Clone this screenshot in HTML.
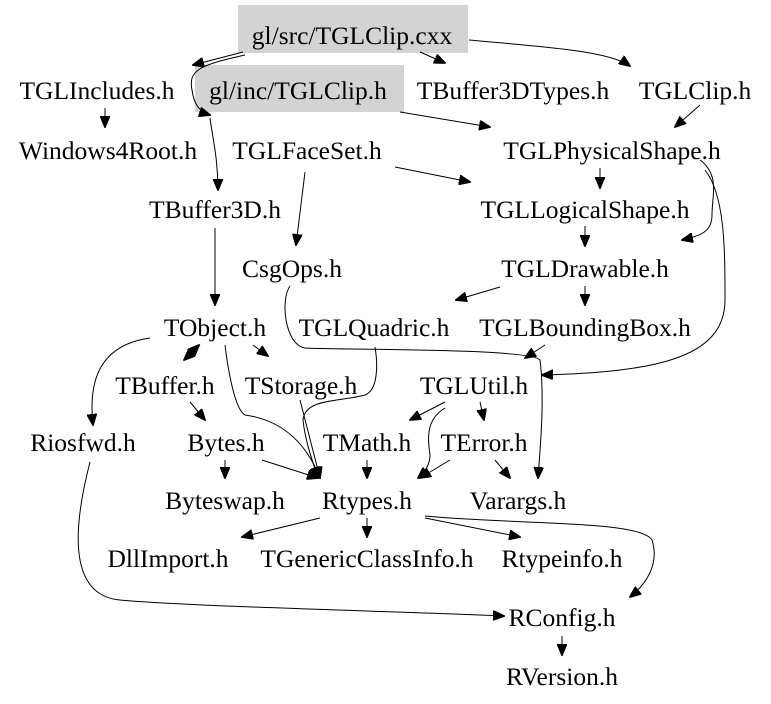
<!DOCTYPE html>
<html><head><style>
html,body{margin:0;padding:0;background:#fff;}
svg{display:block;}
text{font-family:"Liberation Serif","DejaVu Serif",serif;font-size:25.5px;fill:#000;text-anchor:middle;}
path{fill:none;stroke:#000;stroke-width:1;}
</style></head><body>
<svg width="771" height="704" viewBox="0 0 771 704" xmlns="http://www.w3.org/2000/svg">
<defs><marker id="a" markerWidth="12" markerHeight="10" refX="11" refY="5" orient="auto" markerUnits="userSpaceOnUse"><path d="M0,0 L12,5 L0,10 Z" style="fill:#000;stroke:#000"/></marker></defs>
<rect x="238" y="5" width="230" height="48" fill="#d3d3d3"/>
<rect x="195" y="65" width="209" height="47" fill="#d3d3d3"/>
<g marker-end="url(#a)">
<path d="M243,52 L193,65"/>
<path d="M245,55 C200,65 188,70 192,90 C194,105 200,112 210,115"/>
<path d="M210,118 C213,140 218,160 218,190"/>
<path d="M420,52 L445,63"/>
<path d="M469,40 C560,48 610,52 630,66"/>
<path d="M400,112 L490,127"/>
<path d="M700,105 L675,127"/>
<path d="M105,108 L105,127"/>
<path d="M305,172 L296,245"/>
<path d="M395,167 L470,182"/>
<path d="M600,168 L600,188"/>
<path d="M700,160 C720,175 712,195 712,215 C712,232 700,236 682,240"/>
<path d="M705,170 C725,195 725,250 725,300 C725,360 650,372 542,375"/>
<path d="M585,226 L585,246"/>
<path d="M500,287 L456,300"/>
<path d="M585,286 L585,305"/>
<path d="M545,345 L525,358"/>
<path d="M215,228 L215,305"/>
<path d="M290,286 C280,300 285,345 305,348 C340,350 530,348 540,360 C545,400 540,450 538,478"/>
<path d="M375,347 C378,365 378,390 365,395 C340,402 305,398 303,420 C305,440 312,460 318,478"/>
<path d="M200,345 L184,360"/>
<path d="M184,360 L199,345"/>
<path d="M253,345 L268,356"/>
<path d="M150,338 C100,345 88,380 93,425"/>
<path d="M225,345 C228,370 235,410 245,415 C280,420 305,440 320,478"/>
<path d="M190,402 L205,420"/>
<path d="M225,460 L225,478"/>
<path d="M262,460 L318,478"/>
<path d="M300,400 L320,478"/>
<path d="M445,402 L410,420"/>
<path d="M480,402 L484,420"/>
<path d="M445,408 C425,420 428,440 430,455 C430,465 425,472 418,478"/>
<path d="M367,460 L367,478"/>
<path d="M450,460 L420,478"/>
<path d="M495,460 L510,478"/>
<path d="M320,518 L242,537"/>
<path d="M367,518 L367,537"/>
<path d="M425,518 L520,537"/>
<path d="M425,516 C520,525 640,520 652,540 C660,565 645,585 630,597"/>
<path d="M90,462 C75,520 65,595 120,600 C200,607 420,612 504,616"/>
<path d="M562,636 L562,655"/>
</g>
<text x="352" y="44">gl/src/TGLClip.cxx</text>
<text x="298" y="99">gl/inc/TGLClip.h</text>
<text x="97" y="99">TGLIncludes.h</text>
<text x="513" y="99">TBuffer3DTypes.h</text>
<text x="695" y="99">TGLClip.h</text>
<text x="108" y="159">Windows4Root.h</text>
<text x="307" y="159">TGLFaceSet.h</text>
<text x="612" y="159">TGLPhysicalShape.h</text>
<text x="215" y="218">TBuffer3D.h</text>
<text x="585" y="218">TGLLogicalShape.h</text>
<text x="292" y="277">CsgOps.h</text>
<text x="585" y="277">TGLDrawable.h</text>
<text x="215" y="336">TObject.h</text>
<text x="374" y="336">TGLQuadric.h</text>
<text x="585" y="336">TGLBoundingBox.h</text>
<text x="165" y="394">TBuffer.h</text>
<text x="301" y="394">TStorage.h</text>
<text x="474" y="394">TGLUtil.h</text>
<text x="83" y="451">Riosfwd.h</text>
<text x="226" y="451">Bytes.h</text>
<text x="367" y="451">TMath.h</text>
<text x="484" y="451">TError.h</text>
<text x="225" y="509">Byteswap.h</text>
<text x="367" y="509">Rtypes.h</text>
<text x="518" y="509">Varargs.h</text>
<text x="168" y="567">DllImport.h</text>
<text x="367" y="567">TGenericClassInfo.h</text>
<text x="562" y="567">Rtypeinfo.h</text>
<text x="562" y="626">RConfig.h</text>
<text x="562" y="685">RVersion.h</text>
</svg>
</body></html>
